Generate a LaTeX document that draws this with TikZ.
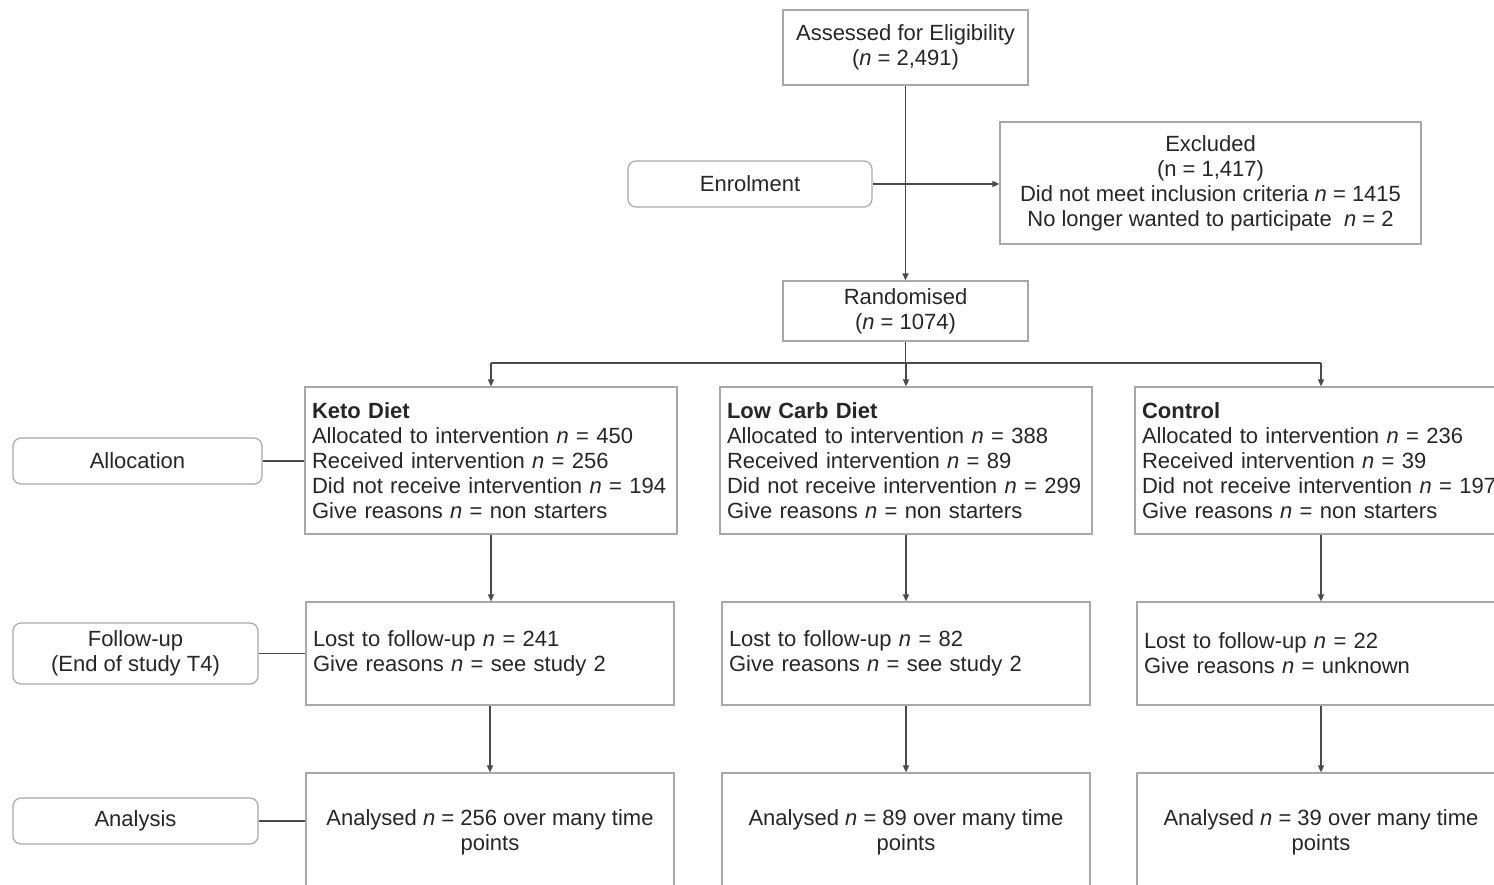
\documentclass[tikz,border=0pt]{standalone}
\usepackage{fontspec}
\setmainfont{Liberation Sans}
\usetikzlibrary{arrows.meta,positioning,calc}
\definecolor{cfLine}{HTML}{A8A8A8}
\definecolor{cfArrow}{HTML}{4A4A4A}
\definecolor{cfText}{HTML}{262626}
\tikzset{
  cf/.style={draw=cfLine, line width=1.2pt, text=cfText, font=\fontsize{22}{25}\selectfont, inner sep=6pt},
  flow/.style={cf, align=center, minimum width=245pt},
  arm/.style={cf, align=left, inner xsep=7pt, text width=#1},
  arm/.default={358pt},
  res/.style={cf, align=center, minimum width=368pt, minimum height=118pt},
  stage/.style={cf, rounded corners=8pt, align=center, minimum width=245pt, minimum height=46pt},
  link/.style={draw=cfArrow, line width=1.3pt},
  flowarrow/.style={link, -{Triangle[length=7pt,width=6pt]}},
}
\newcommand{\nn}{\textit{n}}
\begin{document}
\begin{tikzpicture}[x=1pt, y=-1pt]
\clip (0,0) rectangle (1494,884);
\useasboundingbox (0,0) rectangle (1494,884);
% enrolment
\node[flow, minimum height=75pt] (assess) at (905.5,47.5) {Assessed for Eligibility\\(\nn{} = 2,491)};
\node[stage, minimum width=244pt] (enrol) at (750,184) {Enrolment};
\node[flow, minimum width=421pt, minimum height=122pt] (excl) at (1210.5,183) {Excluded\\(n = 1,417)\\Did not meet inclusion criteria \nn{} = 1415\\No longer wanted to participate~~\nn{} = 2};
\node[flow, minimum height=60pt] (rand) at (905.5,311) {Randomised\\(\nn{} = 1074)};
\draw[flowarrow] (assess) -- (rand);
\draw[flowarrow] (enrol.east) -- (enrol.east -| excl.west);
\coordinate (split) at (905.5,363);
% allocation
\node[arm, minimum height=147pt] (keto1) at (491,460.5) {\textbf{Keto Diet}\\Allocated to intervention \nn{} = 450\\Received intervention \nn{} = 256\\Did not receive intervention \nn{} = 194\\Give reasons \nn{} = non starters};
\node[arm, minimum height=147pt] (low1) at (906,460.5) {\textbf{Low Carb Diet}\\Allocated to intervention \nn{} = 388\\Received intervention \nn{} = 89\\Did not receive intervention \nn{} = 299\\Give reasons \nn{} = non starters};
\node[arm, minimum height=147pt] (ctrl1) at (1321,460.5) {\textbf{Control}\\Allocated to intervention \nn{} = 236\\Received intervention \nn{} = 39\\Did not receive intervention \nn{} = 197\\Give reasons \nn{} = non starters};
% follow-up
\node[arm=354pt, minimum height=103pt] (keto2) at (490,653.5) {Lost to follow-up \nn{} = 241\\Give reasons \nn{} = see study 2};
\node[arm=354pt, minimum height=103pt] (low2) at (906,653.5) {Lost to follow-up \nn{} = 82\\Give reasons \nn{} = see study 2};
\node[arm=354pt, minimum height=103pt] (ctrl2) at (1321,653.5) {Lost to follow-up \nn{} = 22\\Give reasons \nn{} = unknown};
% analysis
\node[res] (keto3) at (490,832) {Analysed \nn{} = 256 over many time\\points};
\node[res] (low3) at (906,832) {Analysed \nn{} = 89 over many time\\points};
\node[res] (ctrl3) at (1321,832) {Analysed \nn{} = 39 over many time\\points};
% stage labels
\node[stage, minimum width=249pt] (alloc) at (137.5,461) {Allocation};
\node[stage, minimum height=61pt] (follow) at (135.5,653.5) {Follow-up\\(End of study T4)};
\node[stage] (anal) at (135.5,821) {Analysis};
\draw[link] (alloc.east) -- (alloc.east -| keto1.west);
\draw[link] (follow.east) -- (follow.east -| keto2.west);
\draw[link] (anal.east) -- (anal.east -| keto3.west);
% connectors
\draw[link] (rand.south) -- (split);
\draw[link] (split -| keto1.north) -- (split -| ctrl1.north);
\foreach \a in {keto1,low1,ctrl1} \draw[flowarrow] (split -| \a.north) -- (\a.north);
\foreach \u/\v in {keto1/keto2,low1/low2,ctrl1/ctrl2,keto2/keto3,low2/low3,ctrl2/ctrl3} \draw[flowarrow] (\u.south) -- (\u.south |- \v.north);
\end{tikzpicture}
\end{document}
